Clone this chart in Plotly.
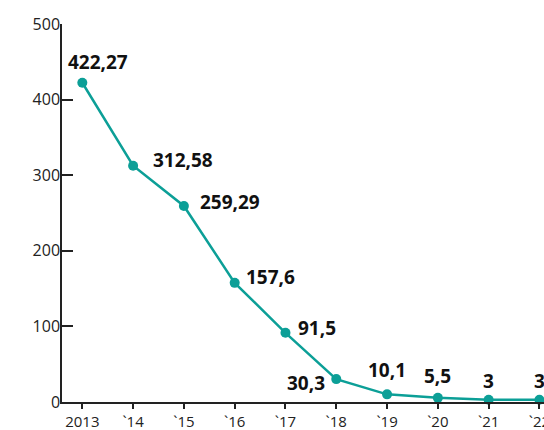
import plotly.graph_objects as go

categories = ["2013", "`14", "`15", "`16", "`17", "`18", "`19", "`20", "`21", "`22"]
values = [422.27, 312.58, 259.29, 157.6, 91.5, 30.3, 10.1, 5.5, 3, 3]
labels = [str(v).replace(".", ",") for v in values]

# label placement styles: (xanchor, xshift, yshift)
label_pos = [
    ("center", 16, 21),
    ("left", 18, 6),
    ("left", 14, 4),
    ("left", 9, 6),
    ("left", 11, 5),
    ("right", -9, -4),
    ("center", 0, 24),
    ("center", 0, 22),
    ("center", 0, 19),
    ("center", 0, 19),
]

teal = "#0c9f97"
fig = go.Figure()
fig.add_trace(go.Scatter(
    x=list(range(len(categories))), y=values, mode="lines+markers",
    line=dict(color=teal, width=2.5),
    marker=dict(color=teal, size=10),
    hoverinfo="skip", cliponaxis=False,
))

for i, (v, t) in enumerate(zip(values, labels)):
    xa, xs, ys = label_pos[i]
    fig.add_annotation(x=i, y=v, text="<b>%s</b>" % t, showarrow=False,
                       xanchor=xa, yanchor="middle", xshift=xs, yshift=ys,
                       font=dict(size=19, color="#111111"))

fig.update_layout(
    width=544, height=430,
    margin=dict(l=62, r=0, t=24, b=28),
    plot_bgcolor="white", paper_bgcolor="white",
    font=dict(family="Open Sans", size=16, color="#222222"),
    showlegend=False,
    xaxis=dict(
        range=[-0.4, 9.09], tickvals=list(range(len(categories))), ticktext=categories,
        showgrid=False, zeroline=False, showline=True, linecolor="#222222", linewidth=1.5,
        ticks="outside", ticklen=5, tickcolor="#222222", tickwidth=1.5,
        tickfont=dict(size=15), ticklabeloverflow="allow", automargin=False,
    ),
    yaxis=dict(
        range=[0, 500], tickvals=[0, 100, 200, 300, 400, 500],
        showgrid=False, zeroline=False, showline=True, linecolor="#222222", linewidth=1.5,
        ticks="inside", ticklen=11, tickcolor="#222222", tickwidth=1.5,
        tickfont=dict(size=16), ticklabelstandoff=-3, automargin=False,
    ),
)

fig.write_html("out.html")
